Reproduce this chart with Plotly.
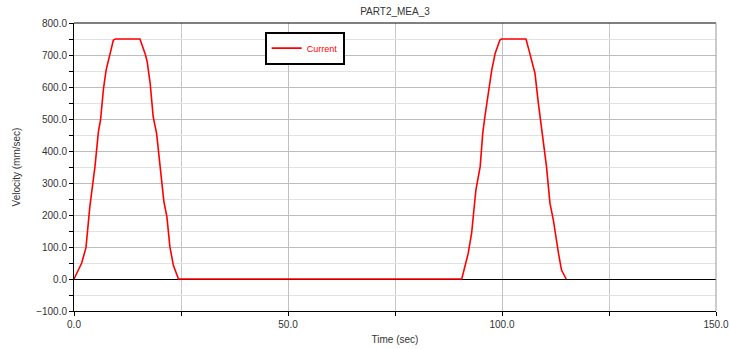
import plotly.graph_objects as go

time_sec = [0.0, 1.8, 2.8, 3.7, 4.9, 5.7, 6.2, 6.9, 7.5, 8.4, 9.2, 9.7,
            15.4, 16.6, 17.1, 17.8, 18.5, 19.3, 20.1, 21.0, 21.7, 22.4, 23.2, 24.4,
            90.6, 92.1, 92.9, 93.9, 94.9, 95.5, 96.0, 97.0, 97.6, 98.4, 99.5, 99.9,
            105.6, 106.5, 107.7, 108.5, 109.7, 110.4, 111.2, 112.0, 113.2, 113.9, 115.0]
velocity = [0, 50, 98, 226, 351, 460, 497, 596, 653, 705, 747, 750,
            750, 705, 679, 611, 507, 455, 351, 242, 195, 101, 44, 0,
            0, 80, 143, 278, 351, 455, 507, 601, 653, 705, 747, 750,
            750, 705, 643, 549, 424, 351, 237, 184, 80, 28, 0]

title_text = "PART2_MEA_3"
series_name = "Current"
x_title = "Time (sec)"
y_title = "Velocity (mm/sec)"

font_family = "Liberation Sans, Arial, sans-serif"

fig = go.Figure()
fig.add_trace(go.Scatter(x=time_sec, y=velocity, mode="lines", name=series_name,
                         line=dict(color="#ff0000", width=1.6)))

fig.update_layout(
    width=730, height=349,
    margin=dict(l=74, r=14, t=23, b=38, autoexpand=False),
    paper_bgcolor="white", plot_bgcolor="white",
    font=dict(family=font_family, size=10, color="#333333"),
    title=dict(text=title_text, x=0.5, xanchor="center", y=0.966, yanchor="middle",
               font=dict(size=10, color="#333333"), xref="paper"),
    showlegend=True,
    legend=dict(x=0.297, y=0.97, xanchor="left", yanchor="top",
                bordercolor="black", borderwidth=2, bgcolor="white",
                font=dict(size=9, color="#ff0000"),
                itemwidth=30, tracegroupgap=0),
    xaxis=dict(range=[0, 150], dtick=50, tick0=0, tickformat=".1f",
               automargin=False,
               showgrid=True, gridcolor="#c0c0c0", gridwidth=1,
               minor=dict(dtick=25, showgrid=True, gridcolor="#c8c8c8",
                          ticks="outside", ticklen=4, tickcolor="black"),
               ticks="outside", ticklen=4, tickcolor="black",
               showline=True, linecolor="black", linewidth=1, mirror=False,
               zeroline=False,
               title=dict(text=x_title, font=dict(size=10), standoff=6)),
    yaxis=dict(range=[-100, 800], dtick=100, tick0=0, tickformat=".1f",
               automargin=False,
               showgrid=True, gridcolor="#bdbdbd", gridwidth=1,
               minor=dict(dtick=50, showgrid=True, gridcolor="#e2e2e2",
                          ticks="outside", ticklen=4, tickcolor="black"),
               ticks="outside", ticklen=4, tickcolor="black",
               showline=True, linecolor="black", linewidth=1,
               zeroline=True, zerolinecolor="black", zerolinewidth=1,
               title=dict(text=y_title, font=dict(size=10), standoff=13)),
    shapes=[
        dict(type="line", xref="paper", yref="paper", x0=0, x1=1, y0=1, y1=1,
             line=dict(color="black", width=1)),
        dict(type="line", xref="paper", yref="paper", x0=1, x1=1, y0=0, y1=1,
             line=dict(color="#999999", width=1)),
    ],
)

fig.write_html("out.html", config={"displayModeBar": False},
               post_script="document.body.style.margin='0';document.body.style.overflow='hidden';")
